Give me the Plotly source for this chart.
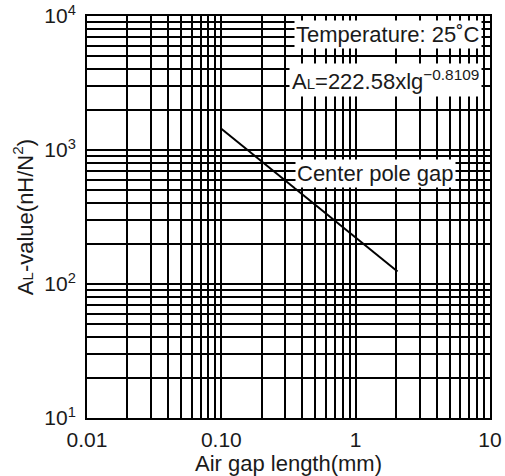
import plotly.graph_objects as go

# Data
gap_mm = [0.10, 0.20, 0.50, 1.0, 2.05]
al_value = [1440, 818, 390, 223, 124]

x_major = [0.01, 0.1, 1, 10]
x_major_text = ["0.01", "0.10", "1", "10"]
y_major = [10, 100, 1000, 10000]
y_major_text = ["10<sup>1</sup>", "10<sup>2</sup>", "10<sup>3</sup>", "10<sup>4</sup>"]

def log_ticks(majors, labels):
    vals, texts = [], []
    for i, m in enumerate(majors):
        vals.append(m)
        texts.append(labels[i])
        if i < len(majors) - 1:
            for k in range(2, 10):
                vals.append(m * k)
                texts.append("")
    return vals, texts

xv, xt = log_ticks(x_major, x_major_text)
yv, yt = log_ticks(y_major, y_major_text)

FONT = "Liberation Sans, Arial, sans-serif"
TXT = "#1a1a1a"
FS = 21

fig = go.Figure()
fig.add_trace(go.Scatter(x=gap_mm, y=al_value, mode="lines",
                         line=dict(color="black", width=2), showlegend=False))

axis_common = dict(showgrid=True, gridcolor="black", gridwidth=1.7,
                   showline=True, linecolor="black", linewidth=2, mirror=True,
                   zeroline=False, ticks="", automargin=False,
                   tickfont=dict(family=FONT, size=FS, color=TXT))

fig.update_xaxes(type="log", range=[-2, 1], tickmode="array", tickvals=xv, ticktext=xt,
                 title=dict(text="Air gap length(mm)", font=dict(family=FONT, size=22, color=TXT), standoff=3),
                 ticklabelstandoff=2, **axis_common)
fig.update_yaxes(type="log", range=[1, 4], tickmode="array", tickvals=yv, ticktext=yt,
                 title=dict(text="A<span style='font-size:15px'>L</span>-value(nH/N<sup>2</sup>)",
                            font=dict(family=FONT, size=22, color=TXT), standoff=5),
                 ticklabelstandoff=5, **axis_common)

ann_font = dict(family=FONT, size=22, color=TXT)
common_ann = dict(xref="paper", yref="paper", xanchor="center", yanchor="middle",
                  showarrow=False, bgcolor="white", font=ann_font)
fig.add_annotation(x=0.747, y=0.953, text="Temperature: 25˚C", borderpad=1, **common_ann)
fig.add_annotation(x=0.74, y=0.841,
                   text="A<span style='font-size:15px'>L</span>=222.58xlg<sup>−0.8109</sup>",
                   borderpad=2, **common_ann)
fig.add_annotation(x=0.717, y=0.609, text="Center pole gap", borderpad=1, **common_ann)

fig.update_layout(width=505, height=476, margin=dict(l=87, r=15, t=16, b=58),
                  paper_bgcolor="white", plot_bgcolor="white")

fig.write_html("out.html", config={"displayModeBar": False},
               post_script="document.body.style.margin='0';")
